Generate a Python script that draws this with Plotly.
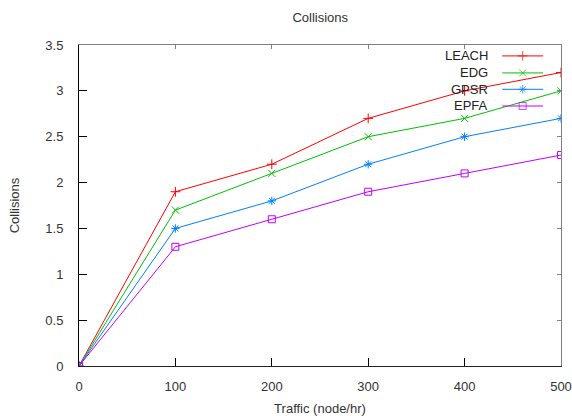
import plotly.graph_objects as go

traffic = [0, 100, 200, 300, 400, 500]
leach = [0, 1.9, 2.2, 2.7, 3.0, 3.2]
edg = [0, 1.7, 2.1, 2.5, 2.7, 3.0]
gpsr = [0, 1.5, 1.8, 2.2, 2.5, 2.7]
epfa = [0, 1.3, 1.6, 1.9, 2.1, 2.3]
x_ticks = [0, 100, 200, 300, 400, 500]
y_ticks = [0, 0.5, 1, 1.5, 2, 2.5, 3, 3.5]
y_labels = ["0", "0.5", "1", "1.5", "2", "2.5", "3", "3.5"]

series = [
    ("LEACH", leach, "#ff0000", "cross-thin"),
    ("EDG", edg, "#00c000", "x-thin"),
    ("GPSR", gpsr, "#0080ff", "asterisk"),
    ("EPFA", epfa, "#c000ff", "square-open"),
]

FONT = "Liberation Sans, Arial, sans-serif"
fig = go.Figure()

# legend sample geometry (paper fractions of plot area)
leg_rows = [0.966, 0.913, 0.862, 0.810]
leg_x0, leg_x1, leg_text_x = 0.878, 0.963, 0.853

for (name, vals, color, sym), ly in zip(series, leg_rows):
    fig.add_trace(go.Scatter(
        x=traffic, y=vals, mode="lines+markers", name=name,
        line=dict(color=color, width=1),
        marker=dict(symbol=sym, size=7, color=color,
                    line=dict(color=color, width=1)),
        showlegend=False,
    ))
    fig.add_trace(go.Scatter(
        x=[leg_x0, (leg_x0 + leg_x1) / 2, leg_x1], y=[ly, ly, ly],
        xaxis="x2", yaxis="y2", mode="lines+markers",
        line=dict(color=color, width=1),
        marker=dict(symbol=sym, size=[0, 7, 0], color=color,
                    line=dict(color=color, width=1)),
        showlegend=False, hoverinfo="skip",
    ))
    fig.add_annotation(
        x=leg_text_x, y=ly, xref="paper", yref="paper", text=name,
        showarrow=False, xanchor="right", yanchor="middle",
        font=dict(family=FONT, size=13, color="#222"),
    )

mirror_common = dict(showgrid=False, zeroline=False, showline=True,
                     linecolor="#808080", linewidth=1, ticks="inside",
                     ticklen=4, tickcolor="#808080", showticklabels=False,
                     automargin=False)

fig.update_layout(
    width=572, height=416,
    margin=dict(l=79, r=11, t=45, b=50, autoexpand=False),
    paper_bgcolor="white", plot_bgcolor="white",
    font=dict(family=FONT, size=13, color="#333"),
    title=dict(text="Collisions", x=0.5599, xanchor="center", y=0.957,
               yanchor="middle", font=dict(size=13, color="#333")),
    xaxis=dict(
        range=[0, 500], tickvals=x_ticks,
        ticks="inside", ticklen=8, tickcolor="#000", showgrid=False,
        zeroline=False, showline=True, linecolor="#222", linewidth=1,
        ticklabelstandoff=8, automargin=False,
        title=dict(text="Traffic (node/hr)", standoff=14,
                   font=dict(size=13, color="#333")),
    ),
    yaxis=dict(
        range=[0, 3.5], tickvals=y_ticks, ticktext=y_labels,
        ticks="inside", ticklen=8, tickcolor="#000", showgrid=False,
        zeroline=False, showline=True, linecolor="#000", linewidth=1,
        ticklabelstandoff=12, automargin=False,
        title=dict(text="Collisions", standoff=22,
                   font=dict(size=13, color="#333")),
    ),
    xaxis2=dict(overlaying="x", range=[0, 1], visible=False),
    yaxis2=dict(overlaying="y", range=[0, 1], visible=False),
    xaxis3=dict(overlaying="x", side="top", range=[0, 500],
                tickvals=x_ticks, **mirror_common),
    yaxis3=dict(overlaying="y", side="right", range=[0, 3.5],
                tickvals=y_ticks, **mirror_common),
)
# empty trace to attach the top/right frame axes
fig.add_trace(go.Scatter(x=[], y=[], xaxis="x3", yaxis="y3",
                         showlegend=False, hoverinfo="skip"))

fig.write_html("out.html", config={"displayModeBar": False},
               post_script="document.body.style.margin='0';document.body.style.overflow='hidden';")
